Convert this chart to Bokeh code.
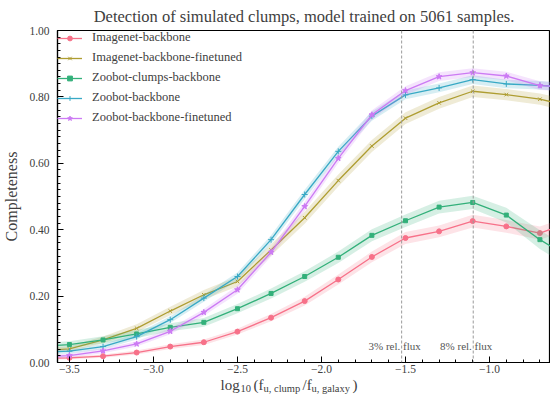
import math
from bokeh.plotting import figure
from bokeh.layouts import column
from bokeh.models import (Range1d, Span, Label, Legend, LegendItem,
                          SingleIntervalTicker, PrintfTickFormatter, CustomJSTickFormatter)
from bokeh.embed import file_html
from bokeh.resources import INLINE

# ---------------- data ----------------
log_flux = [-3.7, -3.5, -3.3, -3.1, -2.9, -2.7, -2.5, -2.3, -2.1,
            -1.9, -1.7, -1.5, -1.3, -1.1, -0.9, -0.7, -0.5]

series_names = ["Imagenet-backbone", "Imagenet-backbone-finetuned",
                "Zoobot-clumps-backbone", "Zoobot-backbone",
                "Zoobot-backbone-finetuned"]

imagenet_backbone = [0.012, 0.014, 0.019, 0.030, 0.048, 0.061, 0.093, 0.135, 0.185,
                     0.250, 0.318, 0.375, 0.395, 0.426, 0.410, 0.390, 0.425]
imagenet_finetuned = [0.035, 0.041, 0.068, 0.103, 0.155, 0.204, 0.244, 0.339, 0.436,
                      0.548, 0.652, 0.736, 0.782, 0.817, 0.807, 0.793, 0.770]
zoobot_clumps = [0.048, 0.054, 0.068, 0.086, 0.106, 0.121, 0.162, 0.208, 0.259,
                 0.317, 0.383, 0.427, 0.468, 0.482, 0.444, 0.370, 0.310]
zoobot_backbone = [0.030, 0.034, 0.048, 0.078, 0.129, 0.194, 0.259, 0.370, 0.506,
                   0.636, 0.742, 0.806, 0.827, 0.852, 0.839, 0.835, 0.828]
zoobot_finetuned = [0.016, 0.021, 0.035, 0.056, 0.094, 0.151, 0.219, 0.332, 0.470,
                    0.615, 0.746, 0.819, 0.861, 0.873, 0.863, 0.834, 0.828]

imagenet_backbone_err = [0.004, 0.004, 0.005, 0.006, 0.007, 0.008, 0.009, 0.011, 0.013,
                         0.015, 0.016, 0.018, 0.018, 0.019, 0.019, 0.020, 0.020]
imagenet_finetuned_err = [0.008, 0.008, 0.010, 0.012, 0.013, 0.014, 0.015, 0.017, 0.018,
                          0.018, 0.018, 0.018, 0.018, 0.017, 0.017, 0.017, 0.017]
zoobot_clumps_err = [0.010, 0.010, 0.011, 0.012, 0.012, 0.013, 0.014, 0.015, 0.016,
                     0.017, 0.018, 0.019, 0.019, 0.020, 0.022, 0.028, 0.030]
zoobot_backbone_err = [0.007, 0.007, 0.008, 0.009, 0.010, 0.011, 0.012, 0.013, 0.014,
                       0.014, 0.014, 0.013, 0.013, 0.013, 0.013, 0.013, 0.013]
zoobot_finetuned_err = [0.006, 0.006, 0.007, 0.008, 0.009, 0.010, 0.012, 0.013, 0.014,
                        0.014, 0.014, 0.013, 0.013, 0.013, 0.013, 0.013, 0.013]

series_values = [imagenet_backbone, imagenet_finetuned, zoobot_clumps,
                 zoobot_backbone, zoobot_finetuned]
series_errs = [imagenet_backbone_err, imagenet_finetuned_err, zoobot_clumps_err,
               zoobot_backbone_err, zoobot_finetuned_err]

colors = ["#f77189", "#ae9d31", "#33b07a", "#38a9c5", "#cc7af4"]
markers = ["circle", "x", "square", "cross", "star"]
marker_sizes = [5, 5, 4, 6, 6]

flux_fractions = [0.03, 0.08]
flux_labels = ["3% rel. flux", "8% rel. flux"]

title_text = "Detection of simulated clumps, model trained on 5061 samples."
y_label = "Completeness"
# x label pieces: (text, is_subscript)
xlabel_parts = [("log", 0), ("10", 1), ("(f", 0), ("u, clump", 1),
                ("/f", 0), ("u, galaxy", 1), (")", 0)]

FONT = "Liberation Serif"
TXT = "#404040"

# ---------------- main figure ----------------
p = figure(width=550, height=378, output_backend="svg", toolbar_location=None,
           x_range=Range1d(-3.571, -0.637), y_range=Range1d(0, 1),
           min_border_left=57, min_border_right=0, min_border_top=30,
           min_border_bottom=16)
p.background_fill_color = "white"
p.border_fill_color = "white"
p.grid.visible = False
p.outline_line_color = "black"
p.outline_line_width = 1.2

p.title.text = title_text
p.title.align = "center"
p.title.text_font = FONT
p.title.text_font_size = "16.5px"
p.title.text_font_style = "normal"
p.title.text_color = TXT
p.title.standoff = 9

for ax in (p.xaxis[0], p.yaxis[0]):
    ax.major_tick_in = 6
    ax.major_tick_out = 0
    ax.minor_tick_in = 3
    ax.minor_tick_out = 0
    ax.axis_line_color = "black"
    ax.axis_line_width = 1.2
    ax.major_tick_line_color = "black"
    ax.minor_tick_line_color = "black"
    ax.major_label_text_font = FONT
    ax.major_label_text_font_size = "11.5px"
    ax.major_label_text_color = TXT

p.xaxis.ticker = SingleIntervalTicker(interval=0.5, num_minor_ticks=5)
p.xaxis.formatter = CustomJSTickFormatter(code="return tick.toFixed(1).replace('-', '\u2212');")
p.xaxis.major_label_standoff = 2

p.yaxis.ticker = SingleIntervalTicker(interval=0.2, num_minor_ticks=10)
p.yaxis.formatter = PrintfTickFormatter(format="%.2f")
p.yaxis.major_label_standoff = 8
p.yaxis.axis_label = y_label
p.yaxis.axis_label_text_font = FONT
p.yaxis.axis_label_text_font_size = "16px"
p.yaxis.axis_label_text_font_style = "normal"
p.yaxis.axis_label_text_color = TXT
p.yaxis.axis_label_standoff = 6

# reference lines
for frac, lab in zip(flux_fractions, flux_labels):
    loc = math.log10(frac)
    p.add_layout(Span(location=loc, dimension="height", line_color="#9a9a9a",
                      line_dash="3 2", line_width=1))
    p.add_layout(Label(x=loc, y=0.031, text=lab, text_align="center", x_offset=-7,
                       text_font=FONT, text_font_size="11px", text_color="#555555"))

# series
items = []
for name, vals, errs, c, m, ms in zip(series_names, series_values, series_errs,
                                      colors, markers, marker_sizes):
    lo = [v - e for v, e in zip(vals, errs)]
    hi = [v + e for v, e in zip(vals, errs)]
    p.varea(x=log_flux, y1=lo, y2=hi, fill_color=c, fill_alpha=0.2)
    ln = p.line(log_flux, vals, line_color=c, line_width=1.3)
    sc = p.scatter(log_flux, vals, marker=m, size=ms, fill_color=c, line_color=c)
    items.append(LegendItem(label=name, renderers=[ln, sc]))

legend = Legend(items=items, location="top_left", margin=0, padding=5,
                border_line_color=None, background_fill_alpha=0,
                label_text_font=FONT, label_text_font_size="12.5px",
                label_text_color=TXT, glyph_width=25, glyph_height=12,
                label_height=12, spacing=5, label_standoff=10)
p.add_layout(legend)

# ---------------- x-axis label strip (frame aligned with main frame) ----------------
q = figure(width=550, height=18, output_backend="svg", toolbar_location=None,
           title=None, x_range=Range1d(57, 550), y_range=Range1d(396, 378),
           x_axis_location=None, y_axis_location=None,
           min_border=0, min_border_left=57, min_border_right=0,
           min_border_top=0, min_border_bottom=0)
q.grid.visible = False
q.outline_line_color = None
q.background_fill_color = "white"
q.border_fill_color = "white"

xlabel_x = [220, 240, 253, 263, 302, 311, 352]
for (txt, is_sub), xo in zip(xlabel_parts, xlabel_x):
    q.add_layout(Label(x=xo, y=388 if is_sub else 384,
                       text=txt, text_baseline="alphabetic", text_align="left",
                       text_font=FONT, text_font_size="10.5px" if is_sub else "15px",
                       text_color=TXT))

layout = column(p, q, spacing=0)
open("out.html", "w").write(file_html(layout, INLINE))
